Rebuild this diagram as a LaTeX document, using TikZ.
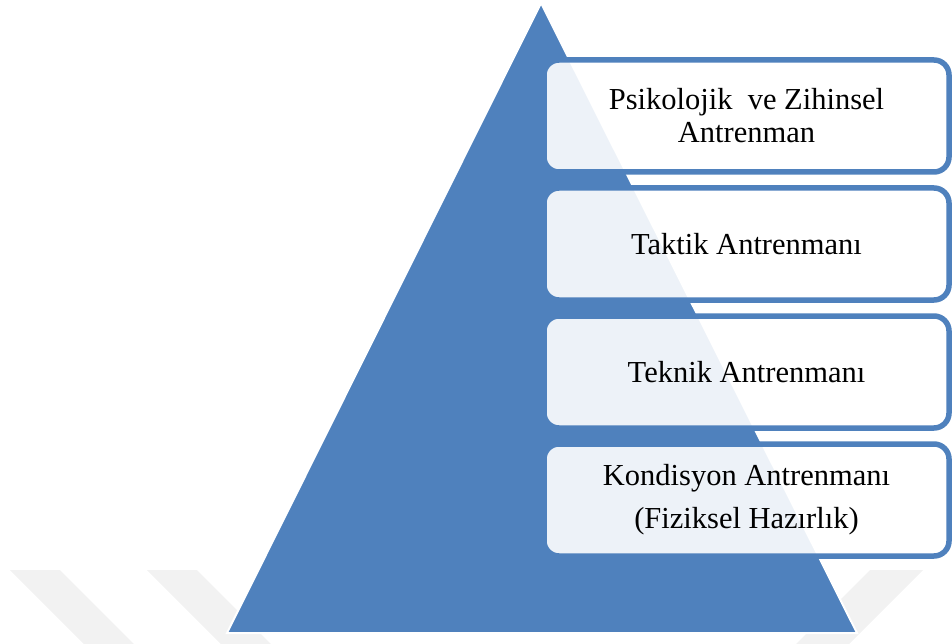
\documentclass[tikz,border=0pt]{standalone}
\usepackage{fontspec}
\setmainfont{Liberation Serif}
\usepackage{xcolor}
\usepackage{tikz}
\usetikzlibrary{positioning}
\definecolor{ofisMavi}{RGB}{79,129,189}

\begin{document}
\begin{tikzpicture}[x=1pt,y=-1pt]
        \tikzset{kutu/.style = {draw=ofisMavi, line width=5.5pt, rounded corners=15pt, fill=white, fill opacity=0.9, text opacity=1, minimum width=405pt, minimum height=112pt, align=center, font=\fontsize{30.5}{33}\selectfont}}
        \tikzset{iz/.style = {fill=black!5, draw=none}}

        \useasboundingbox (0,0) rectangle (952,644);

        \fill[iz] (10,570) -- (60,570) -- (134,644) -- (84,644) -- cycle;
        \fill[iz] (147,570) -- (197,570) -- (271,644) -- (221,644) -- cycle;
        \fill[iz] (870,570) -- (923,570) -- (849,644) -- (796,644) -- cycle;

        \coordinate (tepe) at (541,3);
        \coordinate (solalt) at (227,633);
        \coordinate (sagalt) at (857,633);
        \filldraw[fill=ofisMavi, draw=white, line width=2pt] (tepe) -- (sagalt) -- (solalt) -- cycle;

        \node[kutu] (b1) at (746.5,116) {Psikolojik ~ve Zihinsel\\Antrenman};
        \node[kutu] (b2) at (746.5,244) {Taktik Antrenmanı};
        \node[kutu] (b3) at (746.5,372) {Teknik Antrenmanı};
        \node[kutu] (b4) at (746.5,500) {Kondisyon Antrenmanı\\[10pt](Fiziksel Hazırlık)};

\end{tikzpicture}
\end{document}
